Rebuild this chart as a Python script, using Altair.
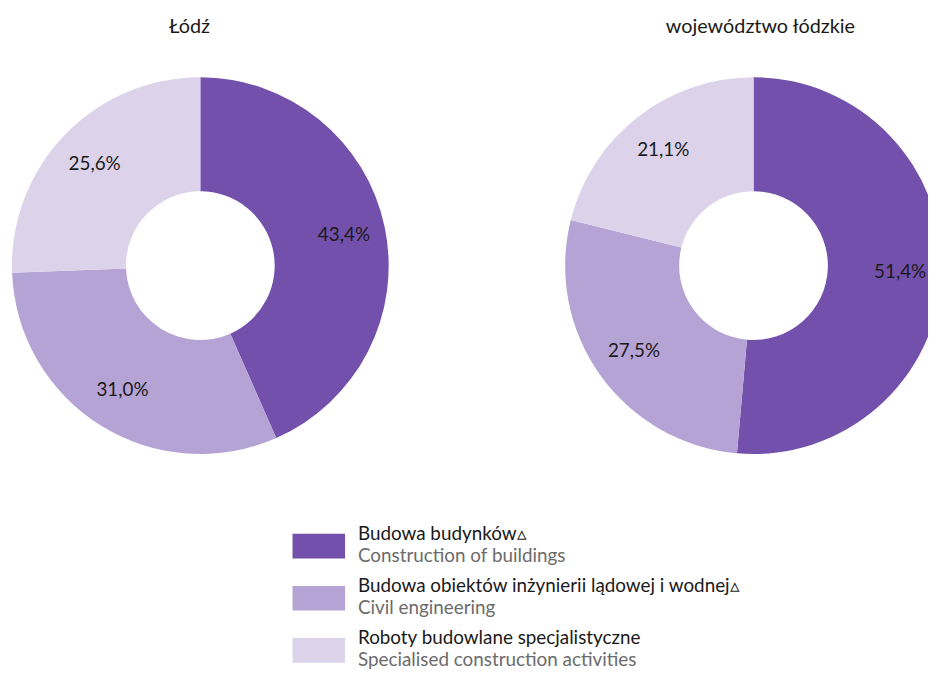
import altair as alt
import pandas as pd

regions = ["Łódź", "województwo łódzkie"]
categories = [
    "Budowa budynków",
    "Budowa obiektów inżynierii lądowej i wodnej",
    "Roboty budowlane specjalistyczne",
]
categories_en = [
    "Construction of buildings",
    "Civil engineering",
    "Specialised construction activities",
]
flags = ["▵", "▵", ""]
lodz_values = [43.4, 31.0, 25.6]
woj_values = [51.4, 27.5, 21.1]
colors = ["#7250ab", "#b6a3d5", "#dcd3ea"]

rows = []
for r, vals in zip(regions, [lodz_values, woj_values]):
    for i, (c, v) in enumerate(zip(categories, vals)):
        rows.append({"region": r, "category": c, "order": i, "value": v})
df = pd.DataFrame(rows)

legend_df = pd.DataFrame({
    "category": categories,
    "pl": [c + f for c, f in zip(categories, flags)],
    "en": categories_en,
    "idx": [0, 1, 2],
})
titles_df = pd.DataFrame({"region": regions})

FONT = "Lato"
xscale = alt.Scale(type="point", domain=regions, range=[194, 752], padding=0)
title_x = alt.Scale(type="point", domain=regions, range=[183, 759], padding=0)
color_scale = alt.Scale(domain=categories, range=colors)
theta_scale = alt.Scale(domain=[0, 100])
CY = 257

base = alt.Chart(df).transform_stack(
    stack="value", groupby=["region"], as_=["v0", "v1"],
    sort=[alt.SortField("order", order="ascending")],
)

arcs = base.mark_arc(outerRadius=190, innerRadius=75).encode(
    theta=alt.Theta("v0:Q", scale=theta_scale),
    theta2="v1:Q",
    x=alt.X("region:N", scale=xscale, axis=None),
    y=alt.value(CY),
    color=alt.Color("category:N", scale=color_scale, legend=None),
)

labels = base.transform_calculate(
    mid="(datum.v0 + datum.v1) / 2",
    lab="replace(format(datum.value, '.1f'), '.', ',') + '%'",
).mark_text(radius=148, fontSize=19, font=FONT, color="#1a1a1a").encode(
    theta=alt.Theta("mid:Q", scale=theta_scale),
    x=alt.X("region:N", scale=xscale, axis=None),
    y=alt.value(CY),
    text="lab:N",
)

donuts = alt.layer(arcs, labels)

titles = alt.Chart(titles_df).mark_text(
    fontSize=20, font=FONT, color="#1a1a1a", baseline="alphabetic"
).encode(
    x=alt.X("region:N", scale=title_x, axis=None),
    y=alt.value(22),
    text="region:N",
)

leg_y = alt.Y("idx:Q", scale=alt.Scale(domain=[0, 2], range=[540, 645], nice=False, zero=False), axis=None)

squares = alt.Chart(legend_df).mark_point(
    shape="M-1,-0.47H1V0.47H-1Z", size=2809, filled=True, opacity=1, strokeWidth=0
).encode(
    x=alt.value(313.5),
    y=leg_y,
    color=alt.Color("category:N", scale=color_scale, legend=None),
)

pl_text = alt.Chart(legend_df).mark_text(
    align="left", baseline="alphabetic", dy=-6, fontSize=19, font=FONT, color="#1a1a1a"
).encode(x=alt.value(353), y=leg_y, text="pl:N")

en_text = alt.Chart(legend_df).mark_text(
    align="left", baseline="alphabetic", dy=16, fontSize=19, font=FONT, color="#6b6b6b"
).encode(x=alt.value(353), y=leg_y, text="en:N")

legend = alt.layer(squares, pl_text, en_text)

chart = alt.layer(donuts, titles, legend).resolve_scale(
    x="independent"
).properties(
    width=928, height=666,
    autosize=alt.AutoSizeParams(type="none"),
    padding=0,
).configure_view(stroke=None)

chart.save("out.html", embed_options={"renderer": "svg", "actions": False})
